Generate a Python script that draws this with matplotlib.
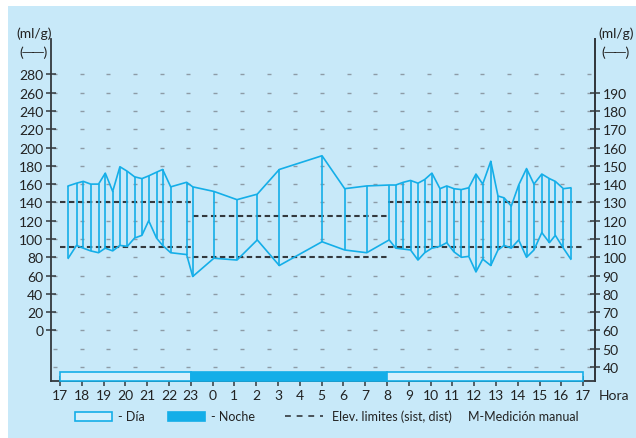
import numpy as np
import matplotlib
matplotlib.use("Agg")
import matplotlib.pyplot as plt
from matplotlib.patches import Rectangle

plt.rcParams["font.family"] = ["Lato", "DejaVu Sans"]

# hours since 17:00 of each reading
t = [0.38, 0.76, 1.07, 1.41, 1.77, 2.08, 2.42, 2.75, 3.09, 3.42, 3.76, 4.07, 4.43, 4.71, 5.08,
     5.81, 6.09, 7.06, 8.12, 9.05, 10.06, 12.02, 13.06, 14.07, 15.10, 15.40, 15.75, 16.08, 16.42,
     16.73, 17.06, 17.43, 17.74, 18.07, 18.41, 18.75, 19.08, 19.39, 19.76, 20.09, 20.37, 20.70,
     21.04, 21.40, 21.74, 22.10, 22.45, 22.72, 23.09, 23.43]
sist = [158, 161, 163, 160, 160, 172, 152, 179, 174, 168, 166, 169, 173, 176, 157,
        162, 157, 152, 143, 149, 176, 191, 155, 158, 159, 159, 162, 164, 161,
        165, 172, 155, 158, 155, 154, 156, 171, 160, 185, 147, 145, 136,
        159, 177, 160, 171, 166, 163, 155, 156]
dist = [79, 93, 90, 87, 85, 90, 87, 93, 92, 101, 104, 120, 101, 93, 85,
        83, 59, 79, 77, 99, 71, 97, 88, 85, 99, 90, 89, 88, 77,
        85, 90, 92, 96, 86, 80, 81, 64, 78, 71, 88, 93, 90,
        99, 80, 88, 107, 96, 104, 90, 78]

# limit segments (day / night / day)
lim_x0 = [0, 6.08, 15.05]
lim_x1 = [6.08, 15.05, 24]
lim_sist = [140, 125, 140]
lim_dist = [91, 80, 91]

# day/night bar
periodo_x0 = [0, 6.0, 15.02]
periodo_x1 = [6.0, 15.02, 24]
periodo_noche = [False, True, False]

xlabels = [str(h % 24) for h in range(17, 42)]
left_ticks = list(range(0, 281, 20))
right_ticks = list(range(40, 191, 10))

BG = "#c8e9f9"
CYAN = "#14aee8"
DARK = "#33383d"

W, H = 636, 439
fig = plt.figure(figsize=(W / 100, H / 100), dpi=100)
fig.patch.set_facecolor("white")


def fx(x):
    return x / W


def fy(y):
    return 1 - y / H


fig.patches.append(Rectangle((fx(8), 0), 1, fy(7), transform=fig.transFigure,
                             facecolor=BG, edgecolor="none", zorder=-10))

ax = fig.add_axes([fx(51), fy(382), fx(595) - fx(51), fy(40) - fy(382)])
ax.set_facecolor("none")
ymin, ymax = -55.2, 318.6
ax.set_xlim(-0.41, 24.54)
ax.set_ylim(ymin, ymax)

# grid dots
gx = np.linspace(-0.23, 24.27, 21)
for gy in range(-40, 281, 20):
    ax.plot(gx, [gy] * len(gx), ls="none", marker="_", ms=3.2, mew=1.0, color="#8d9ba6", zorder=1)

# limit lines
for x0, x1, s, d in zip(lim_x0, lim_x1, lim_sist, lim_dist):
    for v in (s, d):
        ax.plot([x0, x1], [v, v], color=DARK, lw=1.5, dashes=(2.6, 1.7), zorder=2)

# readings
ax.vlines(t, dist, sist, color=CYAN, lw=1.2, zorder=3)
ax.plot(t, sist, color=CYAN, lw=1.2, zorder=3)
ax.plot(t, dist, color=CYAN, lw=1.2, zorder=3)

# day / night bar
for x0, x1, noche in zip(periodo_x0, periodo_x1, periodo_noche):
    ax.add_patch(Rectangle((x0, ymin), x1 - x0, -45.5 - ymin,
                           facecolor=CYAN if noche else "#d6f0fc",
                           edgecolor=CYAN, lw=1.2, zorder=4, clip_on=False))

ax.spines["top"].set_visible(False)
for s in ("left", "right", "bottom"):
    ax.spines[s].set_color(DARK)
    ax.spines[s].set_linewidth(1.3)

ax.set_xticks(range(25))
ax.set_xticklabels(xlabels)
ax.set_yticks(left_ticks)
ax.tick_params(direction="inout", length=7, width=1.1, color=DARK, labelsize=10,
               labelcolor="#222222", pad=2)

ax2 = ax.twinx()
ax2.set_ylim(ymin / 2 + 60, ymax / 2 + 60)
ax2.set_yticks(right_ticks)
ax2.tick_params(direction="inout", length=7, width=1.1, color=DARK, labelsize=10,
                labelcolor="#222222", pad=2)
for s in ("top", "left", "bottom"):
    ax2.spines[s].set_visible(False)
ax2.spines["right"].set_color(DARK)
ax2.spines["right"].set_linewidth(1.3)

tk = dict(fontsize=10, color="#222222", va="center")
fig.text(fx(34), fy(34), "(ml/g)", ha="center", **tk)
fig.text(fx(33), fy(53), "(──)", ha="center", **tk)
fig.text(fx(616), fy(34), "(ml/g)", ha="center", **tk)
fig.text(fx(616), fy(53), "(──)", ha="center", **tk)
fig.text(fx(599), fy(396), "Hora", ha="left", **tk)

# legend
lg = dict(fontsize=9, color="#222222", va="center")
fig.patches.append(Rectangle((fx(75), fy(421.5)), fx(112) - fx(75), fy(413) - fy(421.5),
                             transform=fig.transFigure, facecolor="#d6f0fc",
                             edgecolor=CYAN, lw=1.2))
fig.text(fx(118), fy(417), "- Día", ha="left", **lg)
fig.patches.append(Rectangle((fx(168), fy(421.5)), fx(205) - fx(168), fy(413) - fy(421.5),
                             transform=fig.transFigure, facecolor=CYAN, edgecolor=CYAN, lw=1.2))
fig.text(fx(211), fy(417), "- Noche", ha="left", **lg)
fig.add_artist(plt.Line2D([fx(285), fx(323)], [fy(417), fy(417)], transform=fig.transFigure,
                          color=DARK, lw=1.2, dashes=(3.5, 3.5)))
fig.text(fx(332), fy(417), "Elev. limites (sist, dist)", ha="left", **lg)
fig.text(fx(468), fy(417), "M-Medición manual", ha="left", **lg)

fig.savefig("out.png", dpi=100)
